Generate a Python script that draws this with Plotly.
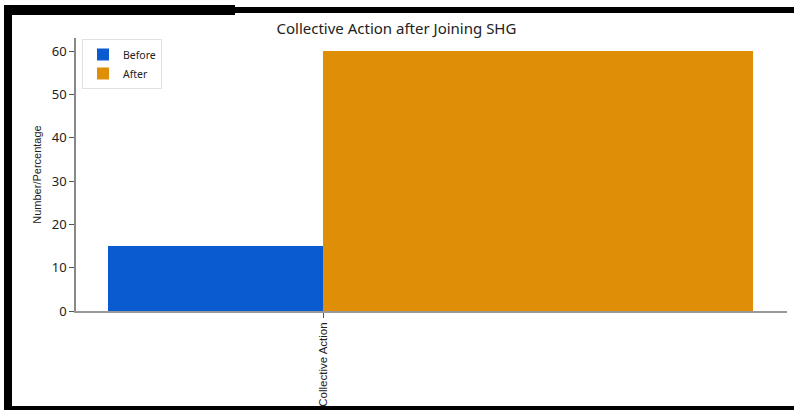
import plotly.graph_objects as go

categories = ["Collective Action"]
before_values = [15]
after_values = [60]
series_names = ["Before", "After"]
title_text = "Collective Action after Joining SHG"
y_label = "Number/Percentage"
y_ticks = [0, 10, 20, 30, 40, 50, 60]

W, H = 794, 410
L, R, T, B = 76, 787, 38, 311  # plot area in pixels

def px(x):
    return (x - L) / (R - L)

def py(y):
    return (B - y) / (B - T)

fig = go.Figure()
fig.add_trace(go.Bar(x=categories, y=before_values, name=series_names[0],
                     marker=dict(color="#0b5bd0", line=dict(width=0)),
                     width=0.5, offset=-0.5))
fig.add_trace(go.Bar(x=categories, y=after_values, name=series_names[1],
                     marker=dict(color="#de8f07", line=dict(width=0)),
                     width=1.0, offset=0.0))

frame = [
    (4, 5, 12, 410),      # left bar
    (4, 5, 235, 15),      # top-left bar
    (235, 7, 794, 13),    # top-right bar
    (4, 406, 794, 410),   # bottom bar
]
shapes = []
for x0, y0, x1, y1 in frame:
    shapes.append(dict(type="rect", xref="paper", yref="paper",
                       x0=px(x0), x1=px(x1), y0=py(y1), y1=py(y0),
                       fillcolor="black", line=dict(width=0), layer="above"))

fig.update_layout(
    width=W, height=H, autosize=False,
    margin=dict(l=L, r=W - R, t=T, b=H - B, pad=0, autoexpand=False),
    paper_bgcolor="white", plot_bgcolor="white",
    barmode="overlay", showlegend=True,
    title=dict(text=title_text, x=px(431), xanchor="center",
               y=1 - 29 / H, yanchor="middle",
               font=dict(family="Noto Sans", size=15, color="#222")),
    legend=dict(x=px(82), y=py(39), xanchor="left", yanchor="top",
                bgcolor="white", bordercolor="#e0e0e0", borderwidth=1,
                font=dict(family="Noto Sans", size=10.5, color="#222"),
                itemwidth=30, tracegroupgap=0, itemsizing="constant"),
    xaxis=dict(range=[-0.5744, 1.079], showgrid=False, zeroline=False,
               showline=True, linecolor="#999", linewidth=1.5,
               ticks="outside", ticklen=5, tickcolor="#555", tickangle=-90,
               automargin=False,
               tickfont=dict(family="Liberation Sans", size=11.5, color="#222"),
               fixedrange=True),
    yaxis=dict(range=[0, 63], tickvals=y_ticks, showgrid=False, zeroline=False,
               showline=True, linecolor="#888", linewidth=1.5,
               ticks="outside", ticklen=5, tickcolor="#555", automargin=False,
               tickfont=dict(family="Noto Sans", size=13, color="#222"),
               title=dict(text=y_label, standoff=8,
                          font=dict(family="Liberation Sans", size=11, color="#222")),
               fixedrange=True),
    shapes=shapes,
)

fig.write_html("out.html")
